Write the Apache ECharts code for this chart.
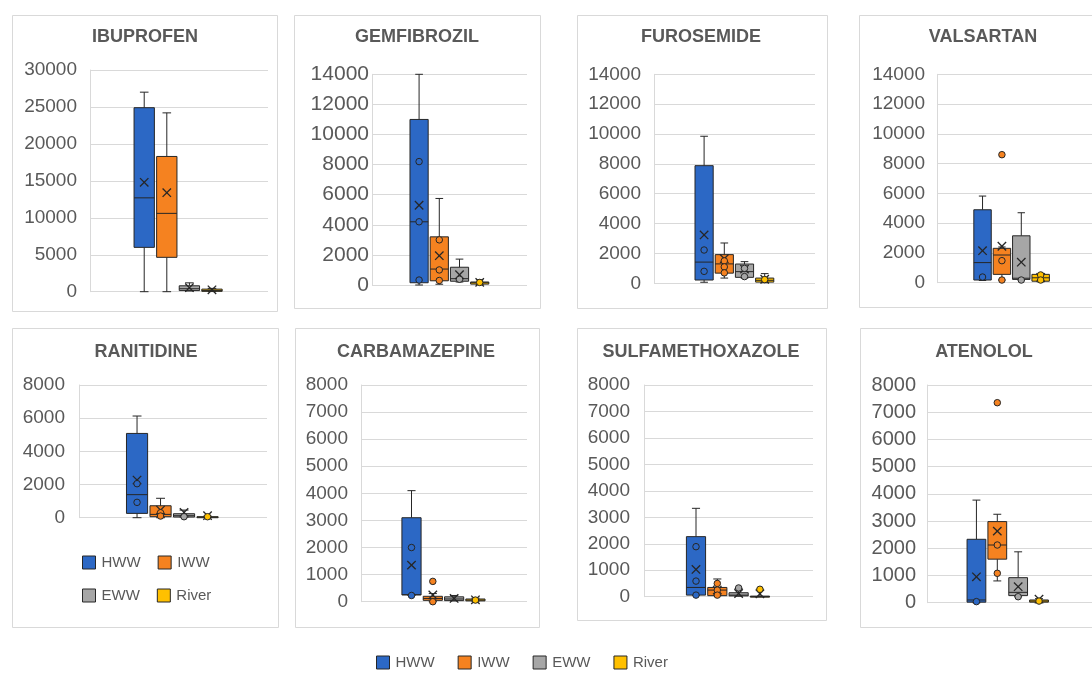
<!DOCTYPE html>
<html>
<head>
<meta charset="utf-8">
<script src="https://cdn.jsdelivr.net/npm/echarts/dist/echarts.min.js"></script>
<style>
  html, body { margin: 0; padding: 0; background: #ffffff; }
  #chart { width: 1092px; height: 676px; }
</style>
</head>
<body>
<div id="chart"></div>
<script>
// ---- data -------------------------------------------------------------
const groups = ['HWW', 'IWW', 'EWW', 'River'];
const drugs = ['IBUPROFEN', 'GEMFIBROZIL', 'FUROSEMIDE', 'VALSARTAN',
               'RANITIDINE', 'CARBAMAZEPINE', 'SULFAMETHOXAZOLE', 'ATENOLOL'];
const axisMax  = [30000, 14000, 14000, 14000, 8000, 8000, 8000, 8000];
const axisStep = [5000, 2000, 2000, 2000, 2000, 1000, 1000, 1000];

// Box summaries per group: [min, Q1, median, Q3, max]; means per group;
// single samples (incl. outliers) drawn as circles.
const ibuprofenBoxes  = [[0, 6000, 12700, 24900, 27000], [0, 4650, 10600, 18300, 24200], [100, 150, 400, 800, 1200], [20, 50, 150, 350, 450]];
const ibuprofenMeans  = [14800, 13400, 550, 250];
const ibuprofenPoints = [[], [], [], []];

const gemfibrozilBoxes  = [[0, 150, 4200, 11000, 14000], [50, 280, 1060, 3200, 5750], [200, 250, 420, 1180, 1720], [30, 60, 150, 200, 350]];
const gemfibrozilMeans  = [5300, 1950, 680, 180];
const gemfibrozilPoints = [[8200, 4200, 330], [3000, 1000, 300], [380], [170]];

const furosemideBoxes  = [[70, 220, 1420, 7880, 9850], [350, 680, 1300, 1920, 2700], [350, 400, 780, 1290, 1450], [40, 80, 200, 350, 650]];
const furosemideMeans  = [3240, 1650, 950, 270];
const furosemidePoints = [[2230, 800], [1500, 1100, 700], [1000, 450], [250]];

const valsartanBoxes  = [[150, 180, 1350, 4900, 5820], [180, 560, 1860, 2310, 2400], [180, 220, 300, 3150, 4700], [60, 100, 330, 560, 580]];
const valsartanMeans  = [2150, 2450, 1380, 350];
const valsartanPoints = [[380], [8600, 1480, 180], [180], [520, 180]];

const ranitidineBoxes  = [[0, 260, 1390, 5080, 6130], [0, 60, 200, 720, 1170], [40, 40, 120, 240, 460], [0, 10, 30, 60, 90]];
const ranitidineMeans  = [2270, 460, 320, 120];
const ranitidinePoints = [[2050, 925], [300, 100], [60], [60]];

const carbamazepineBoxes  = [[230, 250, 260, 3100, 4100], [0, 50, 120, 200, 300], [30, 40, 100, 180, 230], [20, 30, 60, 100, 130]];
const carbamazepineMeans  = [1350, 250, 120, 70];
const carbamazepinePoints = [[2000, 230], [750, 0], [], [60]];

const sulfamethoxazoleBoxes  = [[60, 60, 350, 2270, 3340], [40, 40, 250, 350, 670], [20, 30, 60, 150, 300], [0, 5, 10, 20, 280]];
const sulfamethoxazoleMeans  = [1030, 250, 120, 110];
const sulfamethoxazolePoints = [[1890, 590, 60], [500, 250, 60], [330], [280]];

const atenololBoxes  = [[0, 20, 100, 2330, 3770], [800, 1600, 2120, 2980, 3250], [220, 260, 380, 920, 1870], [10, 20, 60, 100, 150]];
const atenololMeans  = [950, 2630, 590, 130];
const atenololPoints = [[40], [7350, 2120, 1080], [220], [60]];

const drugSets = [
  { boxes: ibuprofenBoxes, means: ibuprofenMeans, points: ibuprofenPoints },
  { boxes: gemfibrozilBoxes, means: gemfibrozilMeans, points: gemfibrozilPoints },
  { boxes: furosemideBoxes, means: furosemideMeans, points: furosemidePoints },
  { boxes: valsartanBoxes, means: valsartanMeans, points: valsartanPoints },
  { boxes: ranitidineBoxes, means: ranitidineMeans, points: ranitidinePoints },
  { boxes: carbamazepineBoxes, means: carbamazepineMeans, points: carbamazepinePoints },
  { boxes: sulfamethoxazoleBoxes, means: sulfamethoxazoleMeans, points: sulfamethoxazolePoints },
  { boxes: atenololBoxes, means: atenololMeans, points: atenololPoints }
];

// ---- layout & style ---------------------------------------------------
const groupColors = ['#2c68c5', '#f58220', '#a6a6a6', '#ffc000'];
const ink = '#262626';
const textGray = '#595959';
const frameGray = '#d9d9d9';
const fontFamily = '"Liberation Sans", Arial, sans-serif';

// panel frame [x, y, w, h]
const panelFrames = [
  [12, 15, 265, 296], [294, 15, 246, 293], [577, 15, 250, 293], [859, 15, 250, 292],
  [12, 328, 266, 299], [295, 328, 244, 299], [577, 328, 249, 292], [860, 328, 250, 299]
];
// plot area [left, top, width, height]
const plotAreas = [
  [90, 70, 178, 221.7], [372, 74.3, 155, 210.7], [654, 74.3, 161, 209], [937, 74.3, 160, 208.4],
  [79, 385, 188, 132.7], [361, 385, 166, 216.7], [644, 385, 169, 211.7], [927, 385, 170, 217.7]
];
// horizontal window of the group axis (groups sit at 0..3)
const xWindows = [
  [-2.40, 5.48], [-2.33, 5.34], [-2.48, 5.49], [-2.35, 5.65],
  [-2.47, 5.53], [-2.37, 5.42], [-2.44, 5.49], [-2.37, 5.54]
];
const titleCenters = [
  [145, 37], [417, 37], [701, 37], [983, 37],
  [146, 352], [416, 352], [701, 352], [984, 352]
];
const labelMargins = [13, 3, 13, 12, 14, 13, 14, 11];
const labelSizes   = [19, 21, 19, 19, 19, 19, 19, 20];

// ---- drawing ----------------------------------------------------------
function renderBox(params, api) {
  const gi = api.value(0);
  const color = groupColors[gi];
  const x = api.coord([gi, 0])[0];
  const pitch = api.size([1, 0])[0];
  const half = pitch * 0.45;
  const cap = pitch * 0.19;
  const y = (v) => api.coord([gi, v])[1];
  const yMin = y(api.value(1)), yQ1 = y(api.value(2)), yMed = y(api.value(3));
  const yQ3 = y(api.value(4)), yMax = y(api.value(5)), yMean = y(api.value(6));
  const stroke = { stroke: ink, lineWidth: 1 };
  const m = 4.2;
  const children = [
    { type: 'line', shape: { x1: x, y1: yQ3, x2: x, y2: yMax }, style: stroke },
    { type: 'line', shape: { x1: x - cap, y1: yMax, x2: x + cap, y2: yMax }, style: stroke },
    { type: 'line', shape: { x1: x, y1: yQ1, x2: x, y2: yMin }, style: stroke },
    { type: 'line', shape: { x1: x - cap, y1: yMin, x2: x + cap, y2: yMin }, style: stroke },
    { type: 'rect', shape: { x: x - half, y: yQ3, width: half * 2, height: Math.max(yQ1 - yQ3, 1) },
      style: { fill: color, stroke: ink, lineWidth: 1 } },
    { type: 'line', shape: { x1: x - half, y1: yMed, x2: x + half, y2: yMed }, style: stroke },
    { type: 'line', shape: { x1: x - m, y1: yMean - m, x2: x + m, y2: yMean + m }, style: { stroke: ink, lineWidth: 1.3 } },
    { type: 'line', shape: { x1: x - m, y1: yMean + m, x2: x + m, y2: yMean - m }, style: { stroke: ink, lineWidth: 1.3 } }
  ];
  return { type: 'group', children };
}

const grids = [], xAxes = [], yAxes = [], series = [], graphics = [];

drugSets.forEach((d, p) => {
  const [l, t, w, h] = plotAreas[p];
  grids.push({ left: l, top: t, width: w, height: h, containLabel: false });
  xAxes.push({ type: 'value', gridIndex: p, min: xWindows[p][0], max: xWindows[p][1], show: false });
  yAxes.push({
    type: 'value', gridIndex: p, min: 0, max: axisMax[p], interval: axisStep[p],
    axisLine: { show: true, onZero: false, lineStyle: { color: frameGray, width: 1 } },
    axisTick: { show: false },
    splitLine: { show: true, lineStyle: { color: frameGray, width: 1 } },
    axisLabel: { color: textGray, fontSize: labelSizes[p], fontFamily, margin: labelMargins[p],
                 formatter: (v) => String(v) }
  });

  groups.forEach((g, gi) => {
    series.push({
      type: 'custom', name: g, xAxisIndex: p, yAxisIndex: p,
      renderItem: renderBox, silent: true, z: 2, clip: false,
      itemStyle: { color: groupColors[gi] },
      encode: { x: 0, y: [1, 2, 3, 4, 5, 6] },
      data: [[gi].concat(d.boxes[gi], [d.means[gi]])]
    });
    series.push({
      type: 'scatter', name: g, xAxisIndex: p, yAxisIndex: p,
      symbol: 'circle', symbolSize: 6.5, silent: true, z: 3, clip: false,
      itemStyle: { color: groupColors[gi], borderColor: ink, borderWidth: 1, opacity: 1 },
      data: d.points[gi].map((v) => [gi, v])
    });
  });

  const [fx, fy, fw, fh] = panelFrames[p];
  graphics.push({
    type: 'rect', z: -1, silent: true,
    shape: { x: fx + 0.5, y: fy + 0.5, width: fw, height: fh },
    style: { fill: 'none', stroke: frameGray, lineWidth: 1 }
  });
  graphics.push({
    type: 'text', silent: true, x: titleCenters[p][0], y: titleCenters[p][1],
    style: { text: drugs[p], fill: textGray, align: 'center', verticalAlign: 'middle',
             font: 'bold 18px ' + fontFamily }
  });
});

const legendItems = groups.map((g, gi) => ({
  name: g, icon: 'rect',
  itemStyle: { color: groupColors[gi], borderColor: ink, borderWidth: 1 }
}));
const legendBase = {
  orient: 'horizontal', padding: 0, itemWidth: 13, itemHeight: 13,
  selectedMode: false,
  textStyle: { color: textGray, fontSize: 15, fontFamily, padding: [0, 0, 0, 1] }
};

const option = {
  animation: false,
  backgroundColor: '#ffffff',
  grid: grids,
  xAxis: xAxes,
  yAxis: yAxes,
  series,
  graphic: { elements: graphics },
  legend: [
    Object.assign({}, legendBase, { left: 376, top: 655, itemGap: 23, data: legendItems }),
    Object.assign({}, legendBase, { left: 82, top: 555, itemGap: 17, data: legendItems.slice(0, 2) }),
    Object.assign({}, legendBase, { left: 82, top: 588, itemGap: 17, data: legendItems.slice(2, 4) })
  ]
};

const chart = echarts.init(document.getElementById('chart'), null, { renderer: 'canvas' });
chart.setOption(option);
</script>
</body>
</html>
